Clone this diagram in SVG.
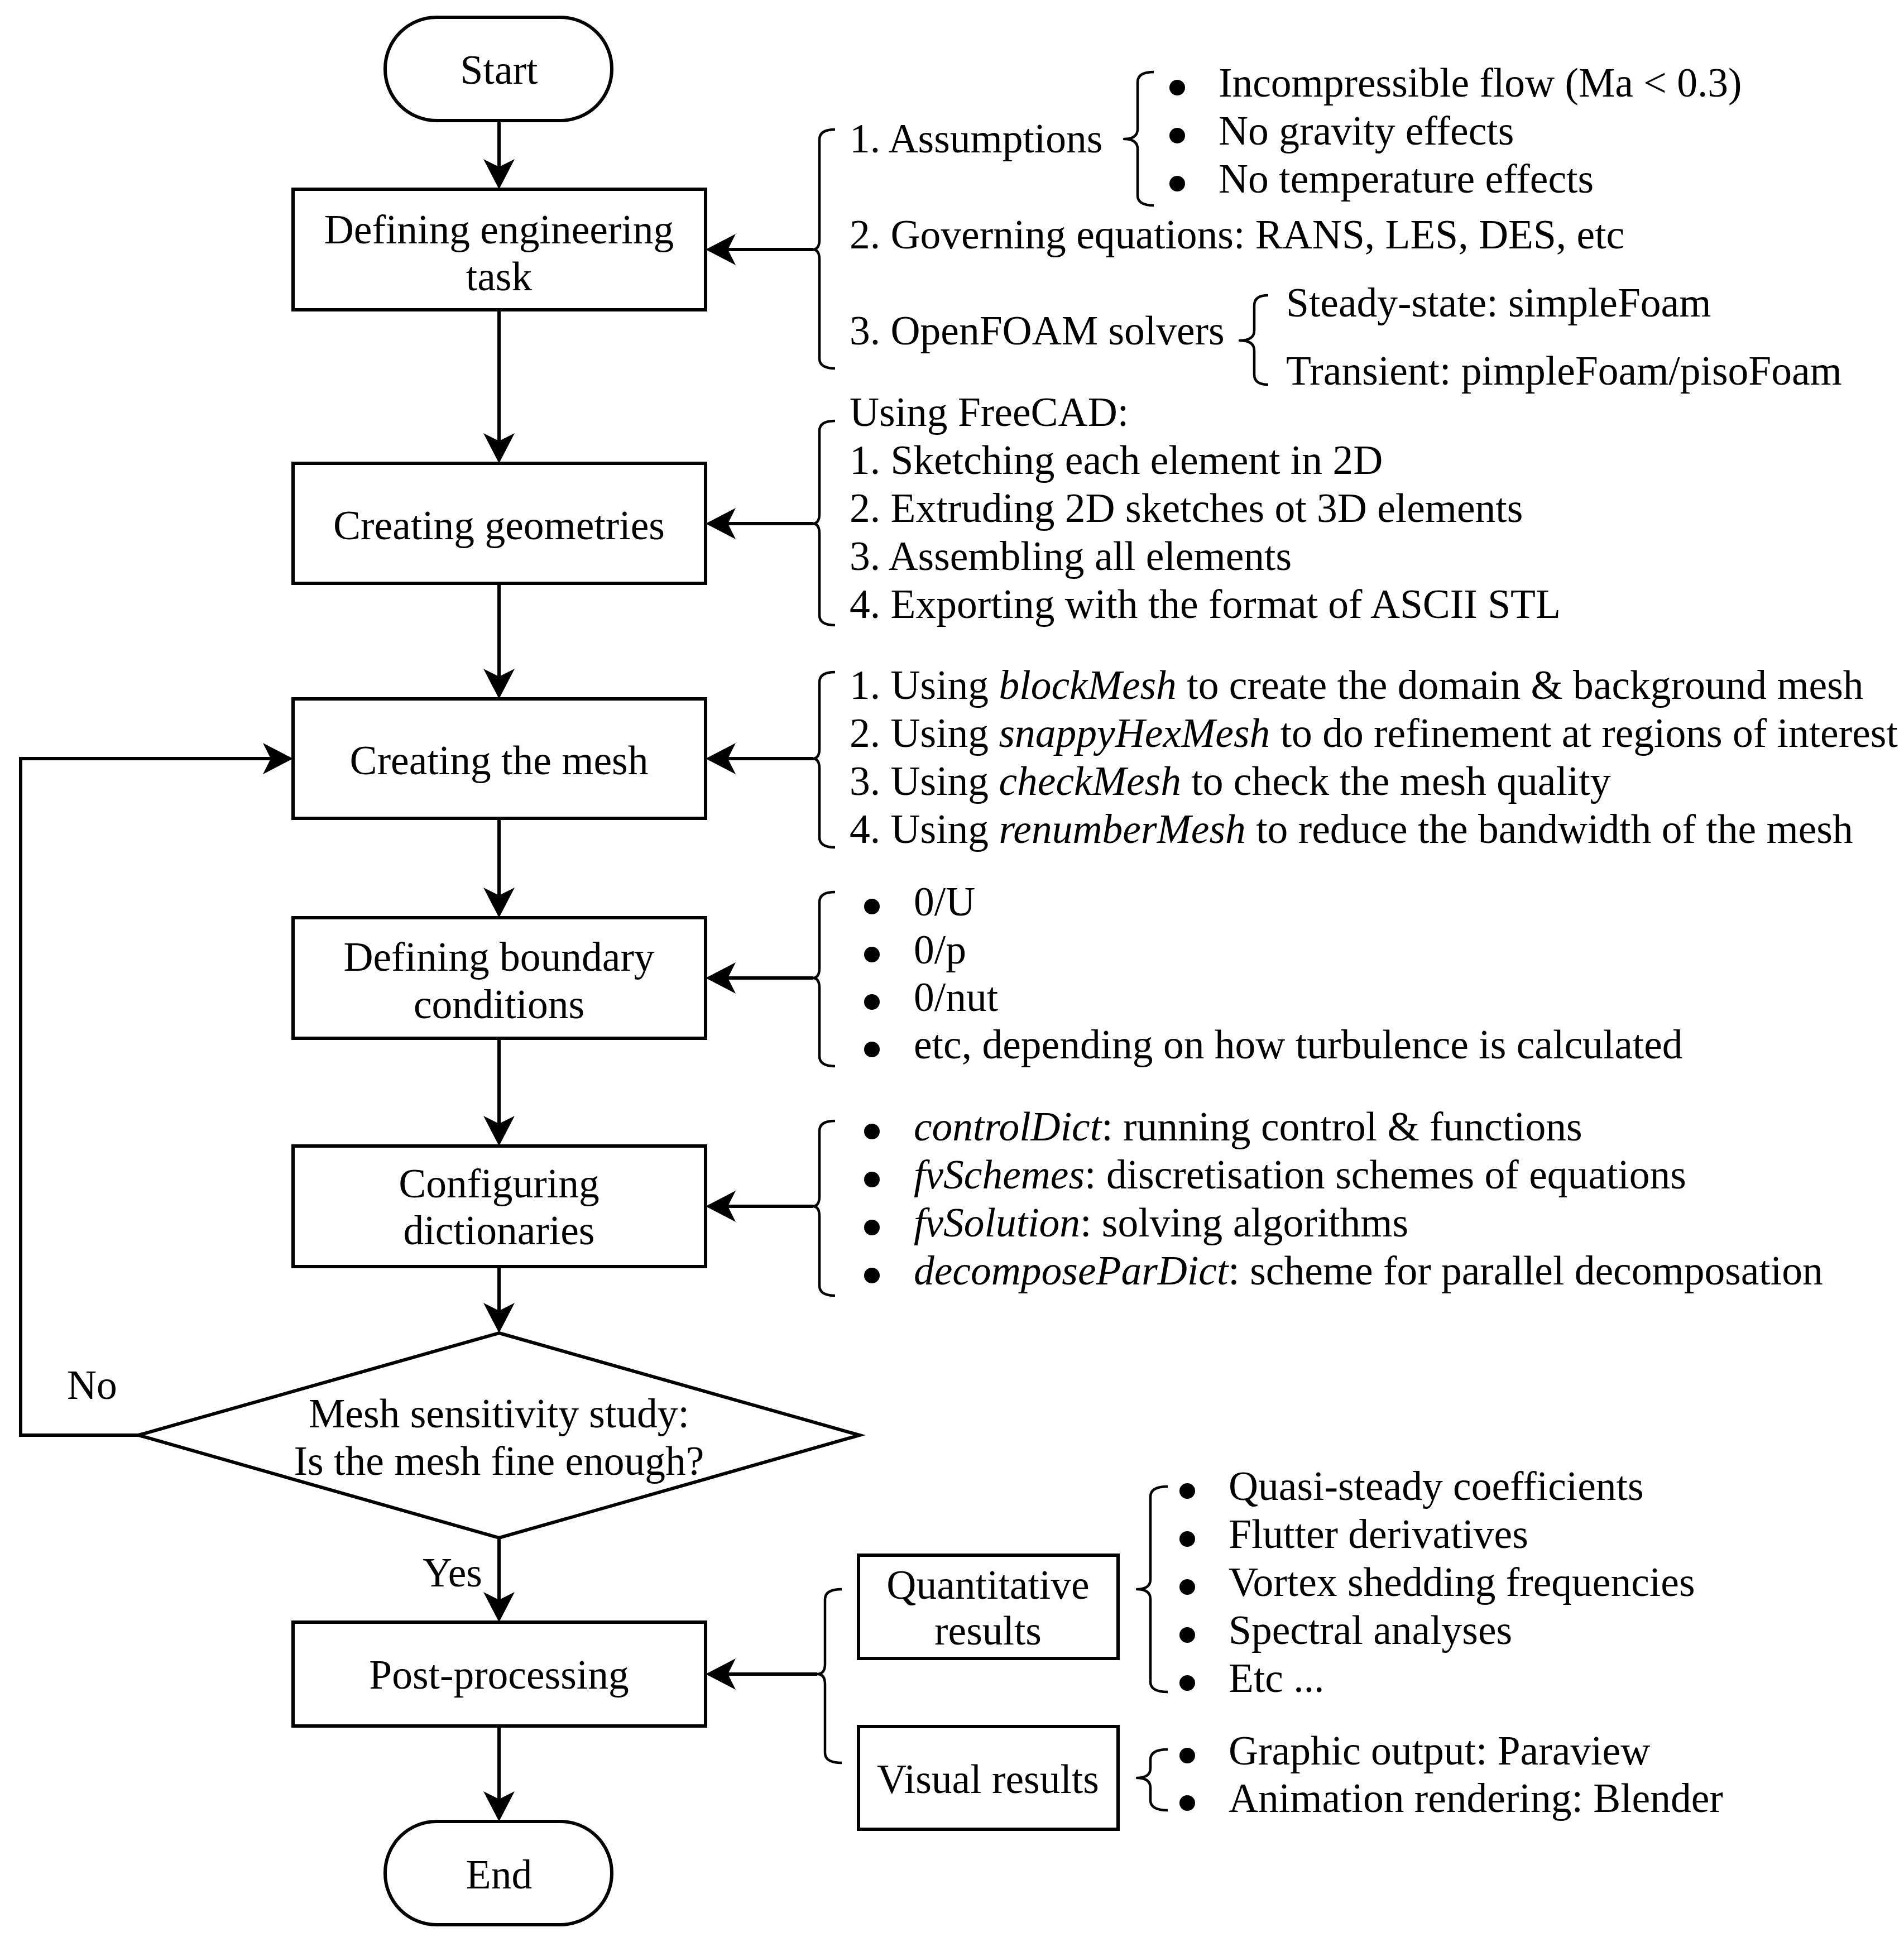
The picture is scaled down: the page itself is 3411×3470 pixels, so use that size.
<svg xmlns="http://www.w3.org/2000/svg" xmlns:xlink="http://www.w3.org/1999/xlink" width="3411" height="3470" viewBox="0 0 3411 3470">
<style>
text{font-family:"Liberation Serif","Times New Roman",serif;font-size:73.5px;fill:#000}
.c{text-anchor:middle}
.i{font-style:italic}
.box{fill:#fff;stroke:#000;stroke-width:6}
.ln{fill:none;stroke:#000;stroke-width:6}
.br{fill:none;stroke:#000;stroke-width:4.5;stroke-linejoin:round}
</style>
<defs>
<marker id="ah" markerUnits="userSpaceOnUse" markerWidth="56" markerHeight="58" viewBox="0 0 56 58" refX="24" refY="29" orient="auto">
<path d="M54,29 L0,1 L14,29 L0,57 Z" fill="#000"/>
</marker>
<circle id="dot" cx="0" cy="0" r="14" fill="#000"/>
</defs>
<rect x="0" y="0" width="3411" height="3470" fill="#fff"/>

<g id="connectors">
<path class="ln" d="M894,216 V309" marker-end="url(#ah)"/>
<path class="ln" d="M894,555 V800" marker-end="url(#ah)"/>
<path class="ln" d="M894,1045 V1222" marker-end="url(#ah)"/>
<path class="ln" d="M894,1466 V1614" marker-end="url(#ah)"/>
<path class="ln" d="M894,1860 V2023" marker-end="url(#ah)"/>
<path class="ln" d="M894,2269 V2358" marker-end="url(#ah)"/>
<path class="ln" d="M894,2755 V2876" marker-end="url(#ah)"/>
<path class="ln" d="M894,3092 V3233" marker-end="url(#ah)"/>
<path class="ln" d="M248,2571 H37 V1359 H495" marker-end="url(#ah)"/>
<path class="ln" d="M1456,447 H1294" marker-end="url(#ah)"/>
<path class="ln" d="M1456,938 H1294" marker-end="url(#ah)"/>
<path class="ln" d="M1456,1359 H1294" marker-end="url(#ah)"/>
<path class="ln" d="M1456,1752 H1294" marker-end="url(#ah)"/>
<path class="ln" d="M1456,2161 H1294" marker-end="url(#ah)"/>
<path class="ln" d="M1464,2999 H1294" marker-end="url(#ah)"/>
<text x="120" y="2506">No</text>
<text x="757" y="2842">Yes</text>
</g>

<g id="start">
<rect class="box" x="690" y="31" width="406" height="185" rx="92" ry="92"/>
<text class="c" x="894" y="150">Start</text>
</g>
<g id="define-task">
<rect class="box" x="525" y="339" width="739" height="216"/>
<text class="c" x="894" y="436">Defining engineering</text>
<text class="c" x="894" y="520">task</text>
</g>
<g id="geometries">
<rect class="box" x="525" y="830" width="739" height="215"/>
<text class="c" x="894" y="966">Creating geometries</text>
</g>
<g id="mesh">
<rect class="box" x="525" y="1252" width="739" height="214"/>
<text class="c" x="894" y="1387">Creating the mesh</text>
</g>
<g id="boundary">
<rect class="box" x="525" y="1644" width="739" height="216"/>
<text class="c" x="894" y="1739">Defining boundary</text>
<text class="c" x="894" y="1824">conditions</text>
</g>
<g id="dictionaries">
<rect class="box" x="525" y="2053" width="739" height="216"/>
<text class="c" x="894" y="2145">Configuring</text>
<text class="c" x="894" y="2229">dictionaries</text>
</g>
<g id="sensitivity">
<path class="box" d="M894,2388 L1540,2571 L894,2755 L248,2571 Z"/>
<text class="c" x="894" y="2557">Mesh sensitivity study:</text>
<text class="c" x="894" y="2642">Is the mesh fine enough?</text>
</g>
<g id="post">
<rect class="box" x="525" y="2906" width="739" height="186"/>
<text class="c" x="894" y="3025">Post-processing</text>
</g>
<g id="end">
<rect class="box" x="690" y="3263" width="406" height="185" rx="92" ry="92"/>
<text class="c" x="894" y="3383">End</text>
</g>

<g id="task-notes">
<path class="br" d="M1496,232 Q1468,232 1468,250 V429 Q1468,447 1456,447 Q1468,447 1468,465 V642 Q1468,660 1496,660"/>
<text x="1522" y="273">1. Assumptions</text>
<path class="br" d="M2067,129 Q2038,129 2038,147 V231 Q2038,249 2014,249 Q2038,249 2038,267 V350 Q2038,368 2067,368"/>
<use xlink:href="#dot" x="2109" y="157"/><text x="2183" y="173">Incompressible flow (Ma &lt; 0.3)</text>
<use xlink:href="#dot" x="2109" y="243"/><text x="2183" y="259">No gravity effects</text>
<use xlink:href="#dot" x="2109" y="329"/><text x="2183" y="345">No temperature effects</text>
<text x="1522" y="445">2. Governing equations: RANS, LES, DES, etc</text>
<text x="1522" y="617">3. OpenFOAM solvers</text>
<path class="br" d="M2272,529 Q2247,529 2247,547 V592 Q2247,610 2221,610 Q2247,610 2247,628 V671 Q2247,689 2272,689"/>
<text x="2304" y="567">Steady-state: simpleFoam</text>
<text x="2304" y="689">Transient: pimpleFoam/pisoFoam</text>
</g>

<g id="geometry-notes">
<path class="br" d="M1496,754 Q1468,754 1468,772 V920 Q1468,938 1456,938 Q1468,938 1468,956 V1102 Q1468,1120 1496,1120"/>
<text x="1522" y="763">Using FreeCAD:</text>
<text x="1522" y="849">1. Sketching each element in 2D</text>
<text x="1522" y="935">2. Extruding 2D sketches ot 3D elements</text>
<text x="1522" y="1021">3. Assembling all elements</text>
<text x="1522" y="1107">4. Exporting with the format of ASCII STL</text>
</g>

<g id="mesh-notes">
<path class="br" d="M1496,1204 Q1468,1204 1468,1222 V1341 Q1468,1359 1456,1359 Q1468,1359 1468,1377 V1500 Q1468,1518 1496,1518"/>
<text x="1522" y="1252">1. Using <tspan class="i">blockMesh</tspan> to create the domain &amp; background mesh</text>
<text x="1522" y="1338">2. Using <tspan class="i">snappyHexMesh</tspan> to do refinement at regions of interest</text>
<text x="1522" y="1424">3. Using <tspan class="i">checkMesh</tspan> to check the mesh quality</text>
<text x="1522" y="1510">4. Using <tspan class="i">renumberMesh</tspan> to reduce the bandwidth of the mesh</text>
</g>

<g id="boundary-notes">
<path class="br" d="M1496,1598 Q1468,1598 1468,1616 V1734 Q1468,1752 1456,1752 Q1468,1752 1468,1770 V1892 Q1468,1910 1496,1910"/>
<use xlink:href="#dot" x="1562" y="1624"/><text x="1637" y="1640">0/U</text>
<use xlink:href="#dot" x="1562" y="1710"/><text x="1637" y="1726">0/p</text>
<use xlink:href="#dot" x="1562" y="1795"/><text x="1637" y="1811">0/nut</text>
<use xlink:href="#dot" x="1562" y="1880"/><text x="1637" y="1896">etc, depending on how turbulence is calculated</text>
</g>

<g id="dictionary-notes">
<path class="br" d="M1496,2008 Q1468,2008 1468,2026 V2143 Q1468,2161 1456,2161 Q1468,2161 1468,2179 V2303 Q1468,2321 1496,2321"/>
<use xlink:href="#dot" x="1562" y="2027"/><text x="1637" y="2043"><tspan class="i">controlDict</tspan>: running control &amp; functions</text>
<use xlink:href="#dot" x="1562" y="2113"/><text x="1637" y="2129"><tspan class="i">fvSchemes</tspan>: discretisation schemes of equations</text>
<use xlink:href="#dot" x="1562" y="2199"/><text x="1637" y="2215"><tspan class="i">fvSolution</tspan>: solving algorithms</text>
<use xlink:href="#dot" x="1562" y="2285"/><text x="1637" y="2301"><tspan class="i">decomposeParDict</tspan>: scheme for parallel decomposation</text>
</g>

<g id="post-notes">
<path class="br" d="M1508,2847 Q1478,2847 1478,2865 V2981 Q1478,2999 1464,2999 Q1478,2999 1478,3017 V3140 Q1478,3158 1508,3158"/>
<g id="quantitative">
<rect class="box" x="1538" y="2786" width="465" height="185"/>
<text class="c" x="1770" y="2864">Quantitative</text>
<text class="c" x="1770" y="2946">results</text>
</g>
<path class="br" d="M2092,2663 Q2061,2663 2061,2681 V2829 Q2061,2847 2037,2847 Q2061,2847 2061,2865 V3013 Q2061,3031 2092,3031"/>
<use xlink:href="#dot" x="2127" y="2671"/><text x="2201" y="2687">Quasi-steady coefficients</text>
<use xlink:href="#dot" x="2127" y="2757"/><text x="2201" y="2773">Flutter derivatives</text>
<use xlink:href="#dot" x="2127" y="2843"/><text x="2201" y="2859">Vortex shedding frequencies</text>
<use xlink:href="#dot" x="2127" y="2929"/><text x="2201" y="2945">Spectral analyses</text>
<use xlink:href="#dot" x="2127" y="3015"/><text x="2201" y="3031">Etc ...</text>
<g id="visual">
<rect class="box" x="1538" y="3093" width="465" height="184"/>
<text class="c" x="1770" y="3212">Visual results</text>
</g>
<path class="br" d="M2092,3134 Q2061,3134 2061,3152 V3167 Q2061,3185 2037,3185 Q2061,3185 2061,3203 V3225 Q2061,3243 2092,3243"/>
<use xlink:href="#dot" x="2127" y="3145"/><text x="2201" y="3161">Graphic output: Paraview</text>
<use xlink:href="#dot" x="2127" y="3230"/><text x="2201" y="3246">Animation rendering: Blender</text>
</g>
</svg>
